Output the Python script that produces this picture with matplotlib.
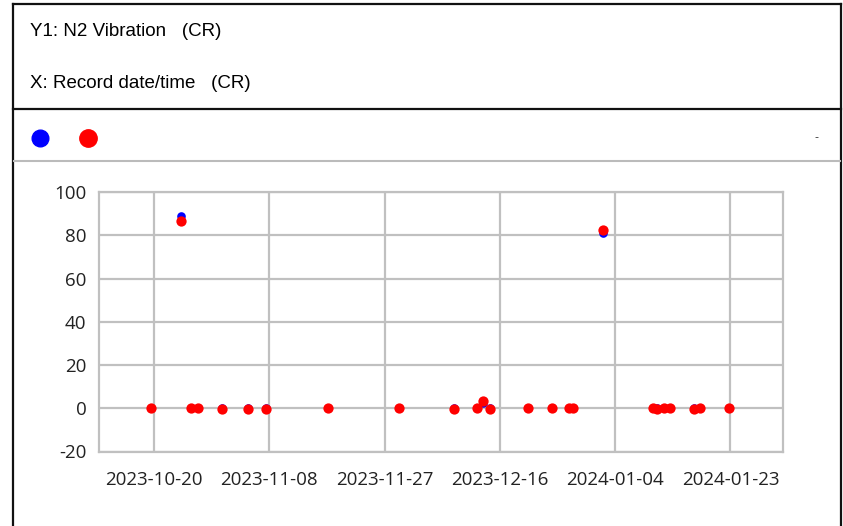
import matplotlib
matplotlib.use("Agg")
import matplotlib.pyplot as plt
import matplotlib.dates as mdates
import numpy as np
import pandas as pd
from matplotlib.lines import Line2D

plt.rcParams["axes.unicode_minus"] = False

# readings (N2 vibration vs record date/time)
dates = ["2023-10-19 12:00", "2023-10-24 12:00", "2023-10-26 01:00", "2023-10-27 04:00",
         "2023-10-31 04:00", "2023-11-04 13:00", "2023-11-07 10:00", "2023-11-17 14:00",
         "2023-11-29 09:00", "2023-12-08 10:00", "2023-12-12 07:00", "2023-12-13 07:00",
         "2023-12-14 10:00", "2023-12-20 17:00", "2023-12-24 14:00", "2023-12-27 10:00",
         "2023-12-28 00:00", "2024-01-01 22:00", "2024-01-10 05:00", "2024-01-10 22:00",
         "2024-01-12 00:00", "2024-01-13 00:00", "2024-01-16 22:00", "2024-01-18 00:00",
         "2024-01-22 17:00"]
blue_vals = [0, 89.0, 0, 0, 0, 0, 0, 0, 0, 0, 0, 2.5, 0, 0, 0, 0, 0, 81.0, 0, 0, 0, 0, 0, 0, 0]
red_vals = [0, 86.8, 0, 0, -0.3, -0.3, -0.3, 0, 0, -0.3, 0, 3.2, -0.3, 0, 0, 0, 0, 82.5, 0, -0.3, 0, 0, -0.3, 0, 0]
tick_dates = ["2023-10-20", "2023-11-08", "2023-11-27", "2023-12-16", "2024-01-04", "2024-01-23"]
y_ticks = [-20, 0, 20, 40, 60, 80, 100]

x = pd.to_datetime(dates)
W, H = 843, 526
fig = plt.figure(figsize=(W / 100, H / 100), dpi=100)

def fx(px):
    return px / W

def fy(py):
    return 1 - py / H

# outer frame and separators
frame = dict(transform=fig.transFigure, color="#111111", lw=1.6)
fig.add_artist(Line2D([fx(13), fx(841)], [fy(4), fy(4)], **frame))
fig.add_artist(Line2D([fx(13), fx(13)], [fy(4), fy(526)], **frame))
fig.add_artist(Line2D([fx(841), fx(841)], [fy(4), fy(526)], **frame))
fig.add_artist(Line2D([fx(13), fx(841)], [fy(109), fy(109)], **frame))
fig.add_artist(Line2D([fx(14), fx(840)], [fy(160.5), fy(160.5)],
                      transform=fig.transFigure, color="#bbbbbb", lw=1.5))

fig.text(fx(30), fy(32), "Y1: N2 Vibration   (CR)", fontsize=13.5,
         family="Liberation Sans", va="center", ha="left")
fig.text(fx(30), fy(83), "X: Record date/time   (CR)", fontsize=13.5,
         family="Liberation Sans", va="center", ha="left")

# legend markers
fig.add_artist(Line2D([fx(40)], [fy(138)], transform=fig.transFigure, marker="o",
                      markersize=12, color="#0000ff", lw=0))
fig.add_artist(Line2D([fx(88)], [fy(138)], transform=fig.transFigure, marker="o",
                      markersize=12.5, color="#ff0000", lw=0))
fig.text(fx(816), fy(137), "-", fontsize=8, ha="center", va="center", color="#333333")

# plot area
ax = fig.add_axes([fx(99), fy(451.5), fx(782.5) - fx(99), fy(192) - fy(451.5)])
ax.scatter(x, blue_vals, s=6.2 ** 2, color="#0000ff", zorder=3, linewidths=0)
ax.scatter(x, red_vals, s=7.4 ** 2, color="#ff0000", zorder=4, linewidths=0)

ax.set_ylim(-20, 100)
ax.set_yticks(y_ticks)
ax.set_xlim(pd.Timestamp("2023-10-10 22:00"), pd.Timestamp("2024-01-31 14:00"))
ax.set_xticks(pd.to_datetime(tick_dates))
ax.xaxis.set_major_formatter(mdates.DateFormatter("%Y-%m-%d"))

ax.grid(True, color="#c0c0c0", lw=1.6)
ax.set_axisbelow(True)
for s in ax.spines.values():
    s.set_color("#c0c0c0")
    s.set_linewidth(1.6)
ax.tick_params(length=0, labelsize=13.5, colors="#222222")
for lab in ax.get_xticklabels() + ax.get_yticklabels():
    lab.set_family("Open Sans")
ax.tick_params(axis="y", pad=9)
ax.tick_params(axis="x", pad=14)

fig.savefig("out.png", dpi=100)
